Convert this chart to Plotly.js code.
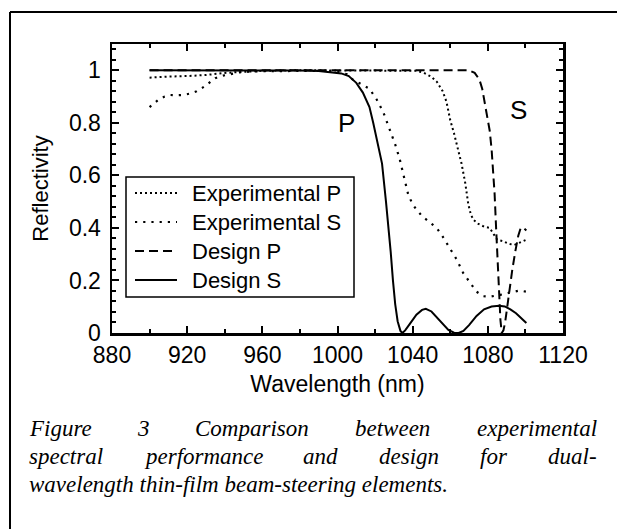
<!DOCTYPE html>
<html>
<head>
<meta charset="utf-8">
<script src="https://cdn.plot.ly/plotly-3.0.1.min.js"></script>
<style>html,body{margin:0;padding:0;background:#fff;}#chart{width:617px;height:529px;}</style>
</head>
<body>
<div id="chart"></div>
<script>
// ---- data ----
const expP_wl = [900,905,910,920,930,940,950,960,980,1000,1020,1035,1042,1046,1050,1053,1056,1058,1060,1062,1063.5,1065,1066,1068,1069.6,1071,1072.5,1075,1078,1081,1083,1085,1088,1091,1094,1097,1100.5];
const expP_R  = [0.972,0.975,0.976,0.978,0.982,0.99,0.995,0.998,1.0,1.0,1.0,1.0,0.998,0.99,0.975,0.955,0.92,0.88,0.81,0.76,0.72,0.68,0.645,0.57,0.49,0.45,0.43,0.415,0.405,0.40,0.375,0.355,0.35,0.34,0.335,0.345,0.355];

const expS_wl = [900,902,904.6,908,911,915,918,922,925,928,930.4,933,935,938,941,945,948,955,970,990,1000,1005,1008,1012,1017,1021,1024.4,1028,1030.6,1033,1035,1037.7,1040,1042,1045,1047.5,1050,1052.8,1056,1060,1063.4,1067,1070.5,1074,1077.6,1081,1086.5,1091.8,1097,1100.5];
const expS_R  = [0.86,0.872,0.887,0.9,0.906,0.905,0.906,0.912,0.92,0.933,0.944,0.96,0.97,0.978,0.982,0.988,0.992,0.996,0.998,0.998,0.995,0.985,0.965,0.95,0.93,0.887,0.84,0.77,0.72,0.665,0.6,0.525,0.49,0.47,0.445,0.43,0.415,0.40,0.367,0.32,0.28,0.227,0.19,0.157,0.14,0.138,0.145,0.155,0.162,0.157];

const desP_wl = [900,950,1000,1050,1070,1073,1075.5,1077,1078.5,1080,1081,1082,1082.8,1083.6,1084.4,1085.2,1086,1086.7,1087.4,1088.3,1089.2,1090.3,1091.5,1093,1094.6,1096.2,1097.5,1099,1100.5];
const desP_R  = [1.0,1.0,1.0,1.0,1.0,0.99,0.965,0.93,0.875,0.82,0.77,0.70,0.63,0.53,0.40,0.27,0.14,0.05,0.0,0.01,0.04,0.10,0.16,0.24,0.31,0.37,0.40,0.40,0.39];

const desS_wl = [900,920,940,960,980,990,997,1002,1006,1010,1013.5,1017,1019,1021.5,1023.7,1025.8,1027.2,1028.3,1029.5,1030.7,1032,1033.5,1034.5,1036,1038.5,1042,1045,1047,1050,1053,1056,1059,1062,1064.5,1067,1070,1074,1078,1082,1086,1089,1092,1095,1098,1100.5];
const desS_R  = [1.0,1.0,1.0,1.0,0.999,0.997,0.993,0.988,0.978,0.952,0.915,0.86,0.80,0.72,0.645,0.50,0.40,0.31,0.20,0.11,0.045,0.008,0.0,0.01,0.035,0.07,0.088,0.092,0.082,0.06,0.035,0.012,0.001,0.0,0.008,0.03,0.065,0.09,0.101,0.104,0.101,0.09,0.075,0.055,0.038];

const seriesNames = ["Experimental P","Experimental S","Design P","Design S"];
const xTitle = "Wavelength (nm)";
const yTitle = "Reflectivity";
const curveLabels = ["P","S"];
const captionLines = [
  "Figure 3 Comparison between experimental",
  "spectral performance and design for dual-",
  "wavelength thin-film beam-steering elements."
];

// ---- layout helpers (pixel geometry of the figure) ----
const W = 617, H = 529;
const M = {l:112, r:54, t:44, b:196};
const PW = W - M.l - M.r, PH = H - M.t - M.b;
const px2x = p => (p - M.l) / PW;
const py2y = p => (H - M.b - p) / PH;

const SANS = "Liberation Sans, Arial, sans-serif";
const SERIF = "Liberation Serif";
const capSize = 23;
const lineStyles = [
  {color: "#000", width: 2, dash: "2px,3px"},
  {color: "#000", width: 2.2, dash: "2.2px,6px"},
  {color: "#000", width: 2, dash: "9px,5px"},
  {color: "#000", width: 2, dash: "solid"}
];

function build() {
  const xs = [expP_wl, expS_wl, desP_wl, desS_wl];
  const ys = [expP_R, expS_R, desP_R, desS_R];
  const traces = seriesNames.map((n, i) => ({x: xs[i], y: ys[i], name: n, mode: "lines", line: lineStyles[i], showlegend: false}));

  const ctx = document.createElement("canvas").getContext("2d");
  ctx.font = "italic " + capSize + "px '" + SERIF + "'";
  const left = 28, right = 596;
  const lineY = [428, 456, 484];
  const anns = [];
  const shapes = [];
  captionLines.forEach((line, i) => {
    if (i < captionLines.length - 1) {
      const words = line.split(" ");
      const ws = words.map(w => ctx.measureText(w).width);
      const tot = ws.reduce((a, b) => a + b, 0);
      const gap = (right - left - tot) / (words.length - 1);
      let x = left;
      words.forEach((w, k) => {
        anns.push({xref: "paper", yref: "paper", x: px2x(x), y: py2y(lineY[i]), xanchor: "left", yanchor: "middle",
          text: "<i>" + w + "</i>", showarrow: false, borderpad: 0, font: {family: SERIF, size: capSize, color: "#000"}});
        x += ws[k] + gap;
      });
    } else {
      anns.push({xref: "paper", yref: "paper", x: px2x(left), y: py2y(lineY[i]), xanchor: "left", yanchor: "middle",
        text: "<i>" + line + "</i>", showarrow: false, borderpad: 0, font: {family: SERIF, size: capSize, color: "#000"}});
    }
  });
  anns.push({x: 1005, y: 0.80, xref: "x", yref: "y", text: curveLabels[0], showarrow: false, font: {family: SANS, size: 26, color: "#000"}});
  anns.push({x: 1096.2, y: 0.85, xref: "x", yref: "y", text: curveLabels[1], showarrow: false, font: {family: SANS, size: 26, color: "#000"}});

  // legend (drawn as box + sample lines + labels)
  const lg = {left: 126, top: 177, right: 354, bottom: 297, rows: [193, 222, 251, 280], s0: 135, s1: 177, tx: 191};
  shapes.push({type: "rect", xref: "paper", yref: "paper", x0: px2x(lg.left), x1: px2x(lg.right), y0: py2y(lg.bottom), y1: py2y(lg.top),
    line: {color: "#000", width: 1.5}, fillcolor: "#fff", layer: "above"});
  seriesNames.forEach((n, i) => {
    shapes.push({type: "line", xref: "paper", yref: "paper", x0: px2x(lg.s0), x1: px2x(lg.s1), y0: py2y(lg.rows[i]), y1: py2y(lg.rows[i]),
      line: lineStyles[i], layer: "above"});
    anns.push({xref: "paper", yref: "paper", x: px2x(lg.tx), y: py2y(lg.rows[i]), xanchor: "left", yanchor: "middle",
      text: n, showarrow: false, borderpad: 0, font: {family: SANS, size: 22, color: "#000"}});
  });

  // outer figure frame
  shapes.push({type: "line", xref: "paper", yref: "paper", x0: px2x(10), x1: px2x(10), y0: py2y(12), y1: py2y(H + 2), line: {color: "#000", width: 2}});
  shapes.push({type: "line", xref: "paper", yref: "paper", x0: px2x(10), x1: px2x(W + 2), y0: py2y(12), y1: py2y(12), line: {color: "#000", width: 2}});

  const axisCommon = {
    showline: true, linecolor: "#000", linewidth: 2.5, mirror: "ticks",
    ticks: "inside", ticklen: 7, tickwidth: 2, tickcolor: "#000",
    showgrid: false, zeroline: false,
    tickfont: {family: SANS, size: 23, color: "#000"}
  };

  const layout = {
    width: W, height: H,
    margin: {l: M.l, r: M.r, t: M.t, b: M.b, pad: 0},
    paper_bgcolor: "#fff", plot_bgcolor: "#fff",
    showlegend: false,
    xaxis: Object.assign({}, axisCommon, {
      range: [880, 1120], tick0: 880, dtick: 40,
      minor: {dtick: 20, ticks: "inside", ticklen: 4, tickwidth: 2, tickcolor: "#000"},
      title: {text: xTitle, font: {family: SANS, size: 23, color: "#000"}, standoff: 9}
    }),
    yaxis: Object.assign({}, axisCommon, {
      range: [0, 1.1], tick0: 0, dtick: 0.2, ticklabelstandoff: 4,
      minor: {dtick: 0.04, ticks: "inside", ticklen: 4, tickwidth: 2, tickcolor: "#000"},
      title: {text: yTitle, font: {family: SANS, size: 22, color: "#000"}, standoff: 14}
    }),
    annotations: anns,
    shapes: shapes
  };

  Plotly.newPlot("chart", traces, layout, {staticPlot: true, displayModeBar: false});
}

if (document.fonts && document.fonts.load) {
  document.fonts.load("italic " + capSize + "px '" + SERIF + "'").then(build, build);
} else {
  build();
}
</script>
</body>
</html>
